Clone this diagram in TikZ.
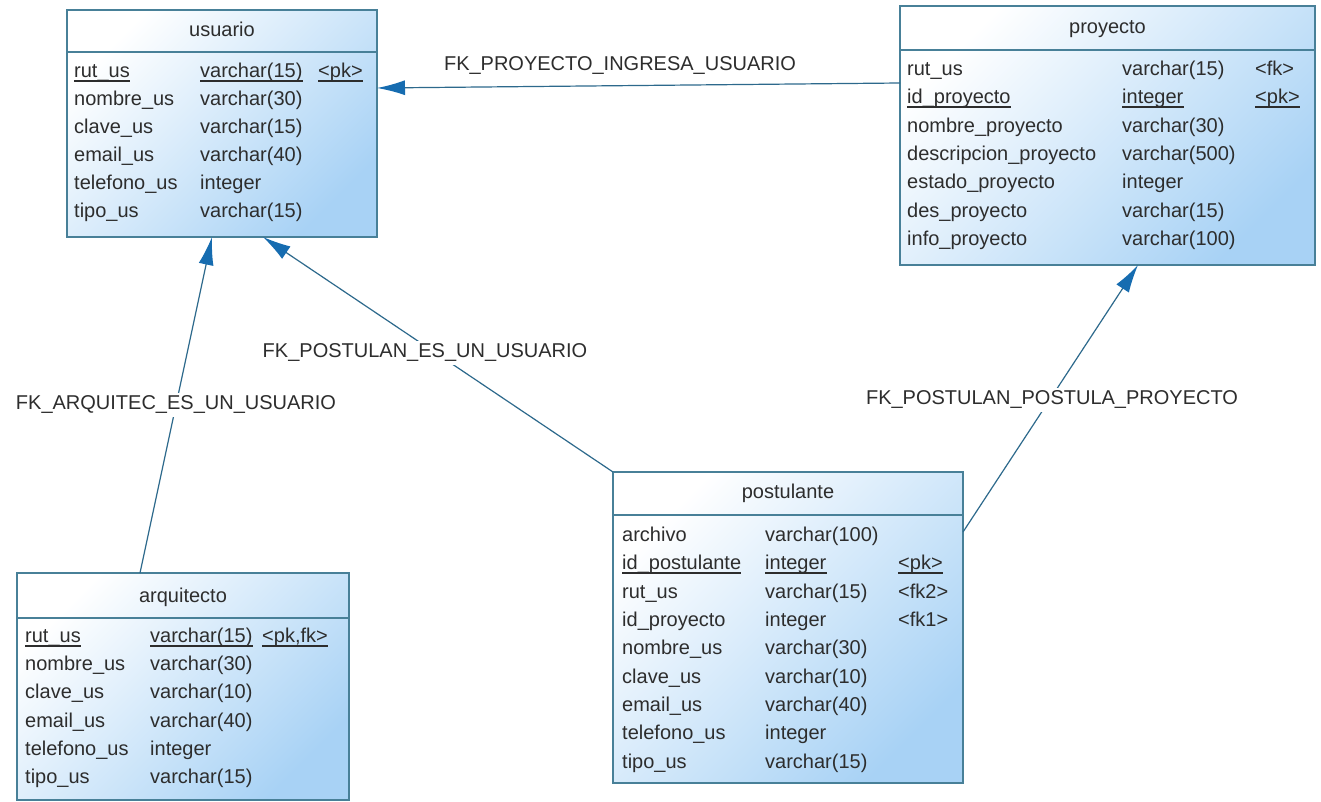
\documentclass[tikz,border=0pt]{standalone}
\usepackage{fontspec}
\setmainfont{Liberation Sans}
\usetikzlibrary{arrows.meta,calc}
\definecolor{tblborder}{RGB}{72,128,152}
\definecolor{tblblue}{RGB}{168,210,245}
\definecolor{conncol}{RGB}{45,105,140}
\definecolor{arrowblue}{RGB}{22,108,176}
\definecolor{txt}{RGB}{45,45,45}

% one table row: id, y, x name, x type, x key, name, type, key
\newcommand\keyrow[8]{%
  \node[fld] (#1-n) at (#3,#2) {#6};
  \node[fld] (#1-t) at (#4,#2) {#7};
  \node[fld] (#1-k) at (#5,#2) {#8};}
% row without key column: id, y, x name, x type, name, type
\newcommand\plainrow[6]{%
  \node[fld] (#1-n) at (#3,#2) {#5};
  \node[fld] (#1-t) at (#4,#2) {#6};}
% underline for primary key cells
\newcommand\pkunder[1]{%
  \draw[uline] ([yshift=-3.5pt]#1.base west) -- ([yshift=-3.5pt]#1.base east);}

\begin{document}
\begin{tikzpicture}[x=1pt,y=-1pt,
  tbl/.style={rectangle, draw=tblborder, line width=1.4pt, inner sep=0pt, outer sep=0pt,
    anchor=north west, top color=white, bottom color=tblblue, shading angle=45},
  sepline/.style={draw=tblborder, line width=1.4pt},
  fld/.style={anchor=mid west, inner sep=0pt, yshift=-3pt, text=txt, font=\fontsize{20}{24}\selectfont},
  ttl/.style={anchor=mid, inner sep=0pt, yshift=-3pt, text=txt, font=\fontsize{20}{24}\selectfont},
  uline/.style={draw=txt, line width=1.3pt},
  conn/.style={draw=conncol, line width=1.2pt, -{Latex[length=28pt,width=15pt,color=arrowblue]}},
  fklabel/.style={fill=white, inner sep=3pt, text=txt, font=\fontsize{20}{24}\selectfont}]

\fill[white] (0,0) rectangle (1321,802);
\useasboundingbox (0,0) rectangle (1321,802);

% ---- usuario ----
\node[tbl, minimum width=310pt, minimum height=227pt] (usuario) at (67,10) {};
\draw[sepline] ([yshift=-42pt]usuario.north west) -- ([yshift=-42pt]usuario.north east);
\node[ttl] (usuario-title) at ([yshift=-21pt]usuario.north) {usuario};
\keyrow{u1}{72}{74}{200}{318}{rut\_us}{varchar(15)}{<pk>}
\pkunder{u1-n}\pkunder{u1-t}\pkunder{u1-k}
\plainrow{u2}{100}{74}{200}{nombre\_us}{varchar(30)}
\plainrow{u3}{128}{74}{200}{clave\_us}{varchar(15)}
\plainrow{u4}{156}{74}{200}{email\_us}{varchar(40)}
\plainrow{u5}{184}{74}{200}{telefono\_us}{integer}
\plainrow{u6}{212}{74}{200}{tipo\_us}{varchar(15)}

% ---- proyecto ----
\node[tbl, minimum width=415pt, minimum height=259pt] (proyecto) at (900,6) {};
\draw[sepline] ([yshift=-44pt]proyecto.north west) -- ([yshift=-44pt]proyecto.north east);
\node[ttl] (proyecto-title) at ([yshift=-22pt]proyecto.north) {proyecto};
\keyrow{p1}{70}{907}{1122}{1255}{rut\_us}{varchar(15)}{<fk>}
\keyrow{p2}{98}{907}{1122}{1255}{id\_proyecto}{integer}{<pk>}
\pkunder{p2-n}\pkunder{p2-t}\pkunder{p2-k}
\plainrow{p3}{127}{907}{1122}{nombre\_proyecto}{varchar(30)}
\plainrow{p4}{155}{907}{1122}{descripcion\_proyecto}{varchar(500)}
\plainrow{p5}{183}{907}{1122}{estado\_proyecto}{integer}
\plainrow{p6}{212}{907}{1122}{des\_proyecto}{varchar(15)}
\plainrow{p7}{240}{907}{1122}{info\_proyecto}{varchar(100)}

% ---- arquitecto ----
\node[tbl, minimum width=332pt, minimum height=227pt] (arquitecto) at (17,573) {};
\draw[sepline] ([yshift=-45pt]arquitecto.north west) -- ([yshift=-45pt]arquitecto.north east);
\node[ttl] (arquitecto-title) at ([yshift=-24pt]arquitecto.north) {arquitecto};
\keyrow{a1}{637}{25}{150}{262}{rut\_us}{varchar(15)}{<pk,fk>}
\pkunder{a1-n}\pkunder{a1-t}\pkunder{a1-k}
\plainrow{a2}{665}{25}{150}{nombre\_us}{varchar(30)}
\plainrow{a3}{693}{25}{150}{clave\_us}{varchar(10)}
\plainrow{a4}{722}{25}{150}{email\_us}{varchar(40)}
\plainrow{a5}{750}{25}{150}{telefono\_us}{integer}
\plainrow{a6}{778}{25}{150}{tipo\_us}{varchar(15)}

% ---- postulante ----
\node[tbl, minimum width=350pt, minimum height=311pt] (postulante) at (613,472) {};
\draw[sepline] ([yshift=-43pt]postulante.north west) -- ([yshift=-43pt]postulante.north east);
\node[ttl] (postulante-title) at ([yshift=-21pt]postulante.north) {postulante};
\plainrow{q1}{536}{622}{765}{archivo}{varchar(100)}
\keyrow{q2}{564}{622}{765}{898}{id\_postulante}{integer}{<pk>}
\pkunder{q2-n}\pkunder{q2-t}\pkunder{q2-k}
\keyrow{q3}{593}{622}{765}{898}{rut\_us}{varchar(15)}{<fk2>}
\keyrow{q4}{621}{622}{765}{898}{id\_proyecto}{integer}{<fk1>}
\plainrow{q5}{649}{622}{765}{nombre\_us}{varchar(30)}
\plainrow{q6}{678}{622}{765}{clave\_us}{varchar(10)}
\plainrow{q7}{706}{622}{765}{email\_us}{varchar(40)}
\plainrow{q8}{734}{622}{765}{telefono\_us}{integer}
\plainrow{q9}{763}{622}{765}{tipo\_us}{varchar(15)}

% ---- references ----
\coordinate (u-in1) at ([yshift=-78pt]usuario.north east);
\coordinate (p-out) at ([yshift=-77pt]proyecto.north west);
\draw[conn] (p-out) -- (u-in1);
\node[fklabel, fill=none] (l1) at (620,66) {FK\_PROYECTO\_INGRESA\_USUARIO};

\coordinate (u-in2) at ([xshift=145pt]usuario.south west);
\coordinate (a-out) at ([xshift=123pt]arquitecto.north west);
\draw[conn] (a-out) -- (u-in2);
\node[fklabel] (l2) at (176,405) {FK\_ARQUITEC\_ES\_UN\_USUARIO};

\coordinate (u-in3) at ([xshift=196pt]usuario.south west);
\draw[conn] (postulante.north west) -- (u-in3);
\node[fklabel] (l3) at (425,353) {FK\_POSTULAN\_ES\_UN\_USUARIO};

\coordinate (p-in) at ([xshift=238pt]proyecto.south west);
\coordinate (q-out) at ([yshift=-60pt]postulante.north east);
\draw[conn] (q-out) -- (p-in);
\node[fklabel] (l4) at (1052,400) {FK\_POSTULAN\_POSTULA\_PROYECTO};

\end{tikzpicture}
\end{document}
